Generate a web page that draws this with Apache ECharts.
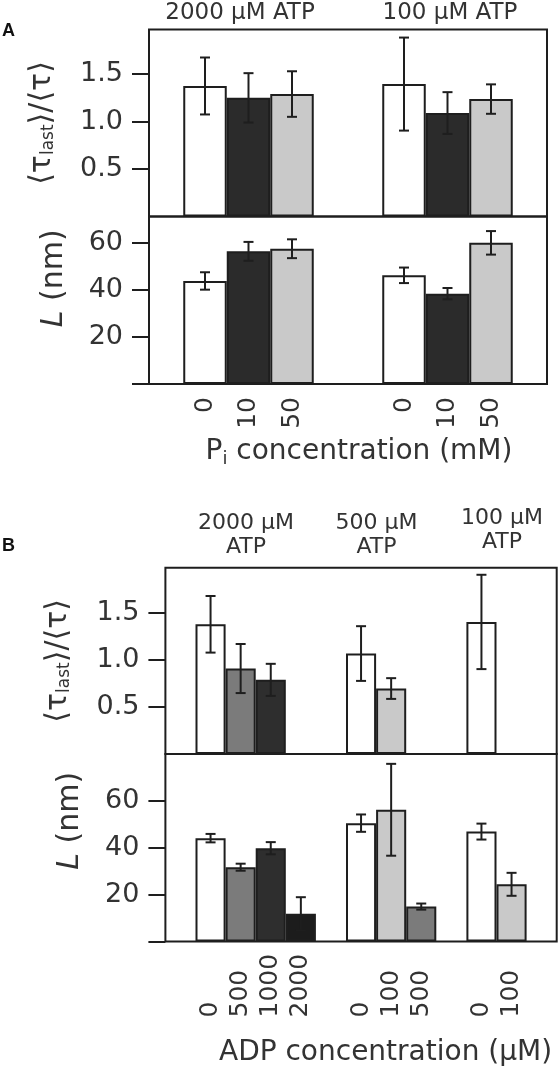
<!DOCTYPE html>
<html><head><meta charset="utf-8">
<script src="https://cdn.jsdelivr.net/npm/echarts@6/dist/echarts.min.js"></script>
<style>html,body{margin:0;padding:0;background:#fff}#c{width:559px;height:1072px}</style>
</head><body><div id="c"></div>
<script>
// ---------- Panel A data ----------
const atpGroupsA = ['2000 µM ATP', '100 µM ATP'];
const piConcA = ['0', '10', '50'];
// values per Pi series, each listing the two ATP groups
const tauRatioA = [[1.375, 1.395], [1.25, 1.09], [1.29, 1.237]];
const tauErrA   = [[0.30, 0.49], [0.26, 0.22], [0.24, 0.155]];
const lengthA   = [[43.8, 46.2], [56.4, 38.4], [57.5, 60.0]];
const lengthErrA= [[3.7, 3.3], [4.0, 2.4], [4.0, 5.0]];
const colorsA = ['#ffffff', '#2b2b2b', '#c9c9c9'];

// ---------- Panel B data ----------
const atpGroupsB = ['2000 µM\nATP', '500 µM\nATP', '100 µM\nATP'];
const adpConcB = [['0', '500', '1000', '2000'], ['0', '100', '500'], ['0', '100']];
const tauRatioB = [[1.375, 0.906, 0.786, null], [1.065, 0.694, null], [1.40, null]];
const tauErrB   = [[0.30, 0.26, 0.17, null], [0.29, 0.11, null], [0.50, null]];
const lengthB   = [[44.1, 31.7, 39.8, 11.8], [50.5, 56.2, 14.9], [46.9, 24.4]];
const lengthErrB= [[1.8, 1.5, 2.6, 7.1], [3.7, 19.6, 1.3], [3.4, 4.9]];
const adpColors = {'0': '#ffffff', '100': '#c9c9c9', '500': '#7b7b7b', '1000': '#2e2e2e', '2000': '#1c1c1c'};

// tick labels
const tauTicks = [0.5, 1.0, 1.5];
const lenTicks = [20, 40, 60];

// ---------- layout constants ----------
const FONT = 'DejaVu Sans';
const TXT = '#333';
const LINE = '#1e1e1e';
const BAR_W_A = 43.5;
const CAP = 10;

// slot layout for B: gap slot, group bars, gap slot ...
const slotKeys = [], slotLabels = [], slotTau = [], slotTauErr = [], slotLen = [], slotLenErr = [], slotColor = [];
function pushGap(k){ slotKeys.push('gap'+k); slotLabels.push(''); slotTau.push(null); slotTauErr.push(null); slotLen.push(null); slotLenErr.push(null); slotColor.push(null); }
adpConcB.forEach((g, gi) => {
  pushGap(gi);
  g.forEach((c, ci) => {
    slotKeys.push('g' + gi + '_' + ci);
    slotLabels.push(c);
    slotTau.push(tauRatioB[gi][ci]);
    slotTauErr.push(tauErrB[gi][ci]);
    slotLen.push(lengthB[gi][ci]);
    slotLenErr.push(lengthErrB[gi][ci]);
    slotColor.push(adpColors[c]);
  });
});
pushGap('end');

const chart = echarts.init(document.getElementById('c'), null, {renderer: 'canvas'});

const grids = [
  {left: 149, top: 29.5, width: 398, height: 187},
  {left: 149, top: 216.5, width: 398, height: 167.5},
  {left: 165.4, top: 567.7, width: 391.3, height: 186.3},
  {left: 165.4, top: 754, width: 391.3, height: 187.5}
].map(g => Object.assign({show: true, borderColor: LINE, borderWidth: 2, backgroundColor: 'transparent', containLabel: false, outerBoundsMode: 'none'}, g));

function hiddenX(grid, data) {
  return {type: 'category', gridIndex: grid, data: data, axisLine: {show: false}, axisTick: {show: false}, axisLabel: {show: false}, splitLine: {show: false}};
}

const tauName = '{a|⟨τ}{s|last}{a|⟩/⟨τ⟩}';
const tauNameStyle = {rich: {
  a: {fontSize: 30, fontFamily: FONT, color: TXT},
  s: {fontSize: 17, fontFamily: FONT, color: TXT, verticalAlign: 'bottom', padding: [12, 0, 0, 0]}
}};
const lenName = '{i|L}{a| (nm)}';
function lenNameStyle(shift) { return {padding: [0, 0, 0, shift], rich: {
  i: {fontSize: 30, fontFamily: FONT, fontStyle: 'italic', color: TXT},
  a: {fontSize: 30, fontFamily: FONT, color: TXT}
}}; }

function yAxisCfg(grid, max, ticks, labels, fmt, name, nameStyle, gap) {
  return {
    type: 'value', gridIndex: grid, min: 0, max: max,
    splitLine: {show: false}, axisLine: {show: false},
    axisTick: {show: true, length: 17, lineStyle: {color: LINE, width: 2}, customValues: ticks},
    axisLabel: {customValues: labels, formatter: fmt, fontSize: 27, fontFamily: FONT, color: TXT, margin: 26},
    name: name, nameLocation: 'middle', nameRotate: 90, nameGap: gap, nameTextStyle: nameStyle, nameMoveOverlap: false
  };
}

function errRender(offsetFn) {
  return function (params, api) {
    const v = api.value(1), e = api.value(2);
    if (v == null || isNaN(v)) return;
    const cx = api.value(0);
    const x = api.coord([cx, v])[0] + offsetFn(api);
    const yT = api.coord([cx, v + e])[1];
    const yB = api.coord([cx, v - e])[1];
    const st = {stroke: LINE, lineWidth: 2};
    return {type: 'group', children: [
      {type: 'line', shape: {x1: x, y1: yT, x2: x, y2: yB}, style: st},
      {type: 'line', shape: {x1: x - CAP / 2, y1: yT, x2: x + CAP / 2, y2: yT}, style: st},
      {type: 'line', shape: {x1: x - CAP / 2, y1: yB, x2: x + CAP / 2, y2: yB}, style: st}
    ]};
  };
}

const series = [];
// Panel A bars
[[tauRatioA, 0], [lengthA, 1]].forEach(([vals, gi]) => {
  vals.forEach((arr, si) => {
    series.push({type: 'bar', xAxisIndex: gi, yAxisIndex: gi, name: piConcA[si], data: arr,
      barWidth: BAR_W_A, barGap: '0%', itemStyle: {color: colorsA[si], borderColor: LINE, borderWidth: 2}, z: 2, animation: false});
  });
});
// Panel A error bars
const offA = api => (api.value(3) - 1) * BAR_W_A;
[[tauRatioA, tauErrA, 0], [lengthA, lengthErrA, 1]].forEach(([vals, errs, gi]) => {
  const d = [];
  vals.forEach((arr, si) => arr.forEach((v, g) => d.push([g, v, errs[si][g], si])));
  series.push({type: 'custom', xAxisIndex: gi, yAxisIndex: gi, data: d, encode: {x: 0, y: 1}, renderItem: errRender(offA), z: 5, clip: false, animation: false});
});
// Panel A rotated category labels under each bar
const labA = [];
atpGroupsA.forEach((g, gi) => piConcA.forEach((p, si) => labA.push([gi, 0, si])));
series.push({type: 'custom', xAxisIndex: 1, yAxisIndex: 1, data: labA, encode: {x: 0, y: 1}, clip: false, animation: false, silent: true,
  renderItem: function (params, api) {
    const c = api.coord([api.value(0), 0]);
    const si = api.value(2);
    return {type: 'text', x: c[0] + (si - 1) * BAR_W_A, y: c[1] + 13, rotation: Math.PI / 2,
      style: {text: piConcA[si], fill: TXT, fontSize: 25, fontFamily: FONT, align: 'right', verticalAlign: 'middle'}};
  }});

// Panel B bars
[[slotTau, 2], [slotLen, 3]].forEach(([vals, gi]) => {
  series.push({type: 'bar', xAxisIndex: gi, yAxisIndex: gi, barCategoryGap: '0%',
    data: vals.map((v, i) => v == null ? null : {value: v, itemStyle: {color: slotColor[i]}}),
    itemStyle: {borderColor: LINE, borderWidth: 2}, z: 2, animation: false});
});
[[slotTau, slotTauErr, 2], [slotLen, slotLenErr, 3]].forEach(([vals, errs, gi]) => {
  const d = [];
  vals.forEach((v, i) => { if (v != null) d.push([i, v, errs[i]]); });
  series.push({type: 'custom', xAxisIndex: gi, yAxisIndex: gi, data: d, encode: {x: 0, y: 1}, renderItem: errRender(() => 0), z: 5, clip: false, animation: false});
});

const option = {
  animation: false,
  backgroundColor: '#ffffff',
  grid: grids,
  xAxis: [
    hiddenX(0, atpGroupsA),
    Object.assign(hiddenX(1, atpGroupsA), {
      name: '{a|P}{s|i}{a| concentration (mM)}', nameLocation: 'middle', nameGap: 52, nameMoveOverlap: false,
      nameTextStyle: {padding: [0, 0, 0, 22], rich: {
        a: {fontSize: 28, fontFamily: FONT, color: TXT},
        s: {fontSize: 18, fontFamily: FONT, color: TXT, verticalAlign: 'bottom', padding: [14, 0, 0, 0]}}}
    }),
    hiddenX(2, slotKeys),
    {type: 'category', gridIndex: 3, data: slotKeys,
      axisLine: {show: false}, axisTick: {show: false}, splitLine: {show: false},
      axisLabel: {interval: 0, rotate: 90, align: 'left', margin: 76, fontSize: 25, fontFamily: FONT, color: TXT,
        formatter: (v, i) => slotLabels[i]},
      name: 'ADP concentration (µM)', nameLocation: 'middle', nameGap: 97, nameMoveOverlap: false,
      nameTextStyle: {fontSize: 28, fontFamily: FONT, color: TXT, padding: [0, 0, 0, 49]}
    }
  ],
  yAxis: [
    yAxisCfg(0, 1.97, tauTicks, tauTicks, v => v.toFixed(1), tauName, tauNameStyle, 92),
    yAxisCfg(1, 71.2, [0].concat(lenTicks), lenTicks, v => String(v), lenName, lenNameStyle(44), 80),
    yAxisCfg(2, 1.975, tauTicks, tauTicks, v => v.toFixed(1), tauName, tauNameStyle, 92),
    yAxisCfg(3, 80, [0].concat(lenTicks), lenTicks, v => String(v), lenName, lenNameStyle(54), 80)
  ],
  graphic: [
    {type: 'text', x: 8.5, y: 31, style: {text: 'A', fill: '#111', fontSize: 18, fontWeight: 'bold', fontFamily: 'Liberation Sans', align: 'center', verticalAlign: 'middle'}},
    {type: 'text', x: 8.5, y: 546.5, style: {text: 'B', fill: '#111', fontSize: 18, fontWeight: 'bold', fontFamily: 'Liberation Sans', align: 'center', verticalAlign: 'middle'}},
    {type: 'text', x: 240, y: 13, style: {text: atpGroupsA[0], fill: TXT, fontSize: 23, fontFamily: FONT, align: 'center', verticalAlign: 'middle'}},
    {type: 'text', x: 450, y: 13, style: {text: atpGroupsA[1], fill: TXT, fontSize: 23, fontFamily: FONT, align: 'center', verticalAlign: 'middle'}},
    {type: 'text', x: 246, y: 535, style: {text: atpGroupsB[0], fill: TXT, fontSize: 22, lineHeight: 24, fontFamily: FONT, align: 'center', verticalAlign: 'middle'}},
    {type: 'text', x: 376.5, y: 535, style: {text: atpGroupsB[1], fill: TXT, fontSize: 22, lineHeight: 24, fontFamily: FONT, align: 'center', verticalAlign: 'middle'}},
    {type: 'text', x: 502, y: 530, style: {text: atpGroupsB[2], fill: TXT, fontSize: 22, lineHeight: 24, fontFamily: FONT, align: 'center', verticalAlign: 'middle'}}
  ],
  series: series
};
chart.setOption(option);
</script></body></html>
